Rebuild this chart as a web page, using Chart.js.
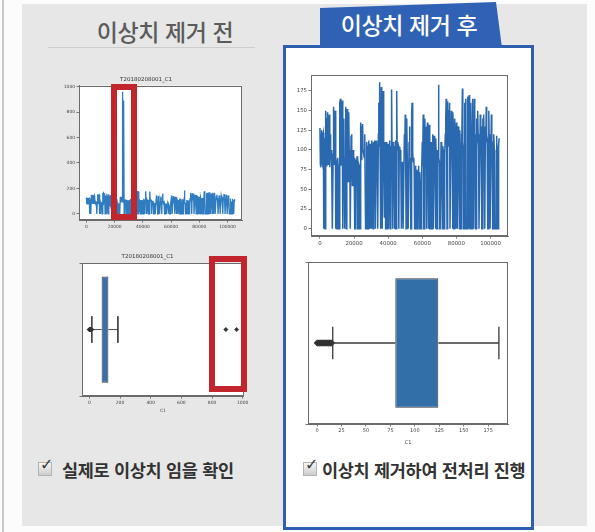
<!DOCTYPE html>
<html lang="ko">
<head>
<meta charset="utf-8">
<script src="https://cdn.jsdelivr.net/npm/chart.js@4.4.1/dist/chart.umd.min.js"></script>
<style>
  body { margin:0; width:595px; height:532px; background:#fcfcfc; position:relative; overflow:hidden;
         font-family:"Noto Sans CJK KR","Noto Sans",sans-serif; }
  .edge { position:absolute; left:2px; top:0; width:1.5px; height:532px; background:#c9c9c9; }
  .panel { position:absolute; left:22px; top:4px; width:565px; height:522px; background:#e7e7e7; }
  .head-before { position:absolute; left:60px; top:20px; width:210px; text-align:center; line-height:1;
                 font-size:23px; color:#5b5b5b; font-weight:500; letter-spacing:-0.4px; }
  .rule { position:absolute; left:48px; top:47px; width:207px; height:1px; background:#cdcdcd; }
  .tab { position:absolute; left:320px; top:2px; width:182px; height:46px; background:#2f62b5;
         clip-path:polygon(0 6px, 176px 0, 182px 46px, 0 46px); }
  .tab-text { position:absolute; left:318px; top:13px; width:182px; text-align:center; line-height:1;
              font-size:23px; color:#fff; font-weight:500; letter-spacing:-0.4px; }
  .after-box { position:absolute; left:283px; top:45px; width:245px; height:479px;
               border:3px solid #2d5eb0; background:#fff; }
  canvas { position:absolute; }
  .redbox { position:absolute; border:6px solid #c3252d; box-sizing:border-box; }
  .note { position:absolute; line-height:1; font-size:17.5px; font-weight:700; color:#333; letter-spacing:-0.3px;
          white-space:nowrap; }
  .chk { position:absolute; width:12px; height:12px; border:1px solid #b3b3b3;
         background:linear-gradient(#f6f6f6,#cdcdcd); }
  .chk::after { content:"✓"; position:absolute; left:1px; top:-8px; font:bold 16px "DejaVu Sans"; color:#3a3a3a; }
</style>
</head>
<body>
<div class="edge"></div>
<div class="panel"></div>
<div class="head-before">이상치 제거 전</div>
<div class="rule"></div>
<div class="after-box"></div>
<div class="tab"></div>
<div class="tab-text">이상치 제거 후</div>

<canvas id="rawLine" width="200" height="175" style="left:50px;top:70px"></canvas>
<canvas id="rawBox" width="200" height="175" style="left:50px;top:245px"></canvas>
<canvas id="cleanLine" width="230" height="190" style="left:285px;top:65px"></canvas>
<canvas id="cleanBox" width="230" height="195" style="left:285px;top:255px"></canvas>

<div class="redbox" style="left:111px;top:84px;width:26px;height:136px"></div>
<div class="redbox" style="left:209px;top:256px;width:38px;height:136px"></div>

<div class="chk" style="left:38px;top:462px"></div>
<div class="note" style="left:62px;top:461px">실제로 이상치 임을 확인</div>
<div class="chk" style="left:303px;top:462px"></div>
<div class="note" style="left:322px;top:461px">이상치 제거하여 전처리 진행</div>

<script>
// ---- data -------------------------------------------------------------
const seriesName = 'T20180208001_C1';
const fieldName = 'C1';
const sampleStep = 250;              // record spacing along the x axis

// C1 readings, one every 250 records (includes the two outlier spikes)
const c1Raw = [
  128, 82, 78,120,125, 84, 80,118,122,  0,115, 86,  0,  0,150, 80, 95,140,148, 82,
   88,135,145, 78,120, 92,100, 80, 85,  0,  0, 95,155, 82, 90,145,150,  0, 75, 88,
    0, 85, 90, 78, 80,  0,  0,160,165, 80, 85,158,163,  0,  0,130,140, 75,  0, 90,
  155, 85,  0,148,152, 75, 60,140,148, 82,100,  0,  0,118,120, 80, 55, 95,100, 85,
   90, 75,  0,  0, 88, 80, 78, 92, 85,  0,  0, 82, 80, 76,  0,  0,135, 88, 95,130,
  133,100,960,100, 90,120,890,  0,  0,108,110,100,105,  0,112,102, 98,108,  0,  0,
  108,  0,112,104,100,  0,110,106,105,112,  0,  0,112,108,100,  0,  0,120,160,105,
  186,100,110,  0,180, 98,  0,  0,175,100,105, 15,100,110,  0,  0,110,105,  0,100,
  108,  0,100,112,110,  0, 98,104,177,100,  0,  0,110,106,100,  0,105,112,  0,  0,
  175,100,100,110,105,  0, 98,104,100, 95, 90,  0,  0, 85, 80,  0,  0,  0,120,100,
  145, 90,  0,  0,140, 80, 85,  0,  0,110,130, 85, 90,  0,  0,145,160, 90, 95, 85,
   90, 75,  0,  0, 80, 70, 75,  0,  0, 65, 70, 80, 65,  0, 72, 60,  0,  0, 68, 75,
  110, 80,145,  0,  0,  0,140, 82, 85,130,  0,  0,135, 80, 90,  0,132, 85,  0,  0,
   95,110, 85,  0,120, 92,  0,  0,118, 85, 90,  0,115, 88,  0,  0,100, 85,183, 90,
   85,  0,  0,  0,110, 90, 95,  0,105,100,  0,  0,100, 95,120,140,165,100,  0,  0,
  162,105,110,150,160,  0,  0,  0,150,110,120,  0,148,125,  0,  0,140,110,115,  0,
  135,105,  0,  0,130,110,100,  0,125,105,  0,  0,120,100,178,110,105,  0,  0,  0,
  160,120,165,  0,  0,  0,168,115,110,  0,170,120,  0,  0,160,115,125,  0,165,110,
    0,  0,165,115,120,  0,  0,  0,140,110,150,120,100,  0,  0,  0,145,110,130,  0,
    0,  0,140,115,145,105,  0,  0,130,110,155,120,115,  0,  0,  0,150,110,120,  0,
    0,  0,145,110,110,  0,  0,  0,120,100, 95,  0,  0,  0,118,110,100,  0,  0,105,
  115
];

// box-plot summaries: lower whisker, Q1, median, Q3, upper whisker
const c1BoxRaw   = [16, 80, 105, 124, 186];
const c1BoxClean = [16, 80, 105, 124, 186];
// points drawn beyond the whiskers
const c1OutliersRaw   = [0, 1, 2, 3, 4, 5, 6, 7, 8, 9, 10, 11, 12, 13, 14, 15, 890, 960];
const c1OutliersClean = [0, 1, 2, 3, 4, 5, 6, 7, 8, 9, 10, 11, 12, 13, 14, 15];

// tick labels
const recordTicks   = [0, 20000, 40000, 60000, 80000, 100000];
const rawValueTicks = [0, 200, 400, 600, 800, 1000];
const cleanValueTicks = [0, 25, 50, 75, 100, 125, 150, 175];

// ---- helpers ----------------------------------------------------------
const rawPoints = c1Raw.map((v, i) => ({ x: i * sampleStep, y: v }));
// spikes above 200 are the outliers dropped during preprocessing
const cleanPoints = rawPoints.filter(p => p.y <= 200);

const plotFrame = {
  id: 'plotFrame',
  beforeDraw(chart) {
    const { ctx, chartArea: a } = chart;
    ctx.save();
    ctx.fillStyle = '#ffffff';
    ctx.fillRect(a.left, a.top, a.right - a.left, a.bottom - a.top);
    ctx.restore();
  },
  afterDraw(chart) {
    const { ctx, chartArea: a } = chart;
    ctx.save();
    ctx.strokeStyle = '#6b6b6b';
    ctx.lineWidth = 1;
    ctx.strokeRect(Math.round(a.left) + 0.5, Math.round(a.top) + 0.5,
                   Math.round(a.right - a.left) - 1, Math.round(a.bottom - a.top) - 1);
    ctx.restore();
  }
};

function axis(min, max, ticks, fontSize, fixed, extra) {
  return Object.assign({
    type: 'linear', min, max,
    afterBuildTicks: s => { s.ticks = ticks.map(v => ({ value: v })); },
    afterFit: s => { if (s.isHorizontal()) s.height = fixed; else s.width = fixed; },
    grid: { drawOnChartArea: false, drawTicks: true, tickLength: 2.5, color: '#555', lineWidth: 0.8 },
    border: { display: true, color: '#6b6b6b', width: 1 },
    ticks: { autoSkip: false, maxRotation: 0, padding: 1.5, color: '#444',
             font: { family: 'DejaVu Sans', size: fontSize }, callback: v => String(v) }
  }, extra || {});
}

function baseOptions(padding, title) {
  return {
    responsive: false, animation: false, devicePixelRatio: 1,
    layout: { padding },
    plugins: {
      legend: { display: false }, tooltip: { enabled: false },
      title: title ? { display: true, text: title.text, color: '#333',
                       font: { family: 'DejaVu Sans', size: 5.5, weight: 'normal' },
                       padding: title.pad } : { display: false }
    }
  };
}

function lineChart(id, points, yMin, yMax, yTicks, opts) {
  const o = baseOptions(opts.padding, opts.title ? { text: seriesName, pad: opts.titlePad } : null);
  o.scales = {
    x: axis(-5250, 110250, recordTicks, opts.font, opts.xH),
    y: axis(yMin, yMax, yTicks, opts.font, opts.yW)
  };
  return new Chart(document.getElementById(id), {
    type: 'scatter',
    data: { datasets: [{ data: points, showLine: true, pointRadius: 0,
                         borderColor: opts.color, borderWidth: opts.lw }] },
    options: o,
    plugins: [plotFrame]
  });
}

function boxChart(id, stats, outliers, xMin, xMax, xTicks, opts) {
  const [lo, q1, med, q3, hi] = stats;
  const whisker = { type: 'scatter', showLine: true, pointRadius: 0, borderColor: '#3a3a3a', borderWidth: opts.wl };
  const o = baseOptions(opts.padding, opts.title ? { text: seriesName, pad: opts.titlePad } : null);
  o.scales = {
    x: axis(xMin, xMax, xTicks, opts.font, opts.xH, {
      title: { display: true, text: fieldName, color: '#444', padding: { top: 0, bottom: 0 },
               font: { family: 'DejaVu Sans', size: opts.font } }
    }),
    y: axis(-0.5, 0.5, [0], opts.font, opts.yW)
  };
  o.scales.y.ticks.callback = () => '';
  o.scales.y.reverse = true;
  return new Chart(document.getElementById(id), {
    type: 'scatter',
    data: { datasets: [
      Object.assign({}, whisker, { data: [{ x: lo, y: 0 }, { x: q1, y: 0 }] }),
      Object.assign({}, whisker, { data: [{ x: q3, y: 0 }, { x: hi, y: 0 }] }),
      Object.assign({}, whisker, { data: [{ x: lo, y: -0.2 }, { x: lo, y: 0.2 }] }),
      Object.assign({}, whisker, { data: [{ x: hi, y: -0.2 }, { x: hi, y: 0.2 }] }),
      { type: 'bar', indexAxis: 'y', data: [{ x: [q1, q3], y: 0 }],
        categoryPercentage: 1, barPercentage: 0.8,
        backgroundColor: opts.boxColor, borderColor: '#3a3a3a', borderWidth: 1, borderSkipped: false },
      Object.assign({}, whisker, { borderColor: '#2a2a2a', borderWidth: 1,
                                   data: [{ x: med, y: -0.4 }, { x: med, y: 0.4 }] }),
      { type: 'scatter', data: outliers.map(v => ({ x: v, y: 0 })), pointStyle: 'rectRot',
        pointRadius: opts.outR, backgroundColor: '#333', borderColor: '#333', borderWidth: 0.5 }
    ] },
    options: o,
    plugins: [plotFrame]
  });
}

// ---- before outlier removal ----------------------------------------------
lineChart('rawLine', rawPoints, -48, 1008, rawValueTicks, {
  padding: { left: 0, right: 8, top: 0, bottom: 0 }, title: true, titlePad: { top: 6, bottom: 3 },
  font: 4.4, xH: 25, yW: 29, color: '#2f7cc0', lw: 1.3
});
boxChart('rawBox', c1BoxRaw, c1OutliersRaw, -48, 1008, rawValueTicks, {
  padding: { left: 0, right: 5, top: 0, bottom: 6 }, title: true, titlePad: { top: 8.5, bottom: 3 },
  font: 4.5, xH: 18, yW: 32, wl: 0.9, boxColor: '#3a6fa8', outR: 2.2
});

// ---- after outlier removal -----------------------------------------------
lineChart('cleanLine', cleanPoints, -9.3, 195.3, cleanValueTicks, {
  padding: { left: 0, right: 7, top: 10, bottom: 0 }, title: false,
  font: 5.4, xH: 19, yW: 26, color: '#2a69af', lw: 1.5
});
boxChart('cleanBox', c1BoxClean, c1OutliersClean, -9.3, 195.3, cleanValueTicks, {
  padding: { left: 0, right: 7, top: 7, bottom: 4 }, title: false,
  font: 5, xH: 22, yW: 23, wl: 1.3, boxColor: '#326ea8', outR: 3.2
});
</script>
</body>
</html>
